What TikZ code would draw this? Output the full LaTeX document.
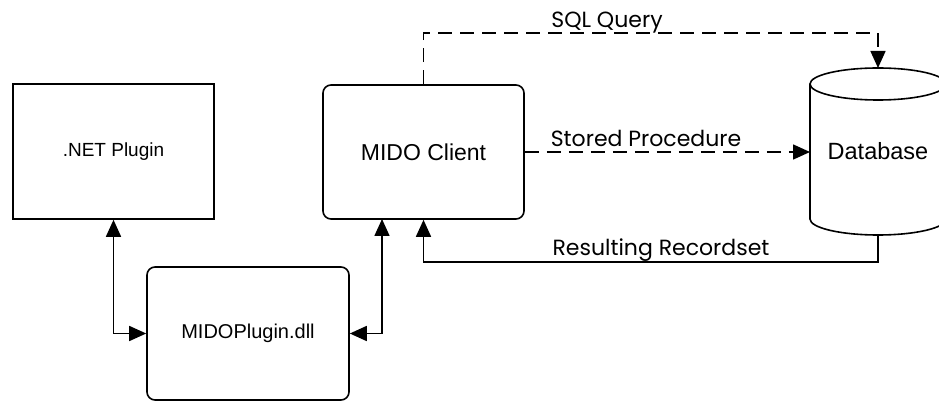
\documentclass[tikz,border=0pt]{standalone}
\usepackage{fontspec}
\setmainfont{Liberation Sans}
\newfontfamily\lblfont{Poppins}
\usetikzlibrary{arrows.meta}
\begin{document}
\begin{tikzpicture}[x=1pt,y=-1pt,
  stroke/.style={line width=1.6pt,black},
  box/.style={stroke,draw,fill=white,inner sep=0pt},
  tip/.style={-{Triangle[length=17pt,width=15pt]}},
  twotip/.style={{Triangle[length=17pt,width=15pt]}-{Triangle[length=17pt,width=15pt]}},
  dashline/.style={dash pattern=on 14pt off 8pt},
  lbl/.style={font=\lblfont\fontsize{22}{26}\selectfont,anchor=base,inner sep=0pt}]
\useasboundingbox (0,0) rectangle (939,403);
\fill[white] (0,0) rectangle (939,403);
% boxes
\node[box,minimum width=201pt,minimum height=135pt,font=\fontsize{19}{22}\selectfont] (net) at (113.5,151.5) {.NET Plugin};
\node[box,rounded corners=8pt,minimum width=202pt,minimum height=133pt,font=\fontsize{20}{23}\selectfont] (plugin) at (248,333.5) {MIDOPlugin.dll};
\node[box,rounded corners=8pt,minimum width=201pt,minimum height=134pt,font=\fontsize{23}{26}\selectfont] (client) at (423.5,152) {MIDO Client};
% database cylinder
\draw[stroke,fill=white] (810,84) -- (810,219) arc (180:0:68 and 16) -- (946,84);
\draw[stroke,fill=white] (878,84) ellipse [x radius=68, y radius=16];
\node[font=\fontsize{23.5}{27}\selectfont,inner sep=0pt] (db) at (878,151) {Database};
\coordinate (dbtop) at (878,68);
\coordinate (dbbot) at (878,235);
\coordinate (dbleft) at (810,152);
\coordinate (sqlc) at (878,33);
\coordinate (resc) at (878,262);
\coordinate (clientleft) at (382,219);
% connectors
\draw[stroke,twotip] (net.south) |- (plugin.west);
\draw[stroke,twotip] (clientleft) |- (plugin.east);
\draw[stroke,tip] (dbbot) -- (resc) -| (client.south);
\draw[stroke,dashline,tip] (client.north) |- (sqlc) -- (dbtop);
\draw[stroke,dashline,tip] (client.east) -- (client.east -| dbleft);
% labels
\node[lbl] (lsql) at (607,28) {SQL Query};
\node[lbl] (lsp) at (646,147) {Stored Procedure};
\node[lbl] (lrr) at (661,255) {Resulting Recordset};
\end{tikzpicture}
\end{document}
